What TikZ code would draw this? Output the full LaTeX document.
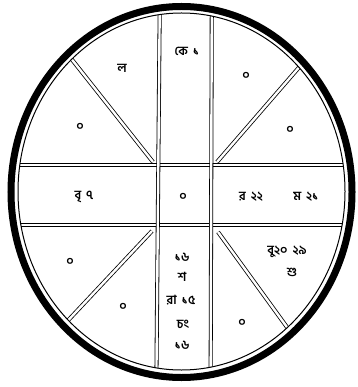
\documentclass[tikz,border=0pt]{standalone}
\usepackage{fontspec}
\newfontfamily\bn[Script=Bengali]{Hind Siliguri}
\newcommand{\gap}{\hspace{5pt}}
\begin{document}
\begin{tikzpicture}[x=1pt,y=-1pt,
  dbl/.style={draw, double=white, double distance=2.4pt, line width=0.8pt},
  lbl/.style={font=\bn\bfseries\fontsize{12.5}{14}\selectfont, inner sep=0pt}]
\useasboundingbox (0,0) rectangle (357,387);
% outer rings
\draw[line width=7pt] (181.5,192) ellipse [x radius=170.5pt, y radius=185.5pt];
% grid, clipped to inner ellipse
\begin{scope}
\clip (181.5,191.5) ellipse [x radius=163.5pt, y radius=178.5pt];
\coordinate (hl1) at (0,165); \coordinate (hr1) at (357,165);
\coordinate (hl2) at (0,225); \coordinate (hr2) at (357,225);
\draw[dbl] (hl1) -- (hr1);
\draw[dbl] (hl2) -- (hr2);
\coordinate (vt1) at (159.8,0); \coordinate (vb1) at (156.3,387);
\coordinate (vt2) at (211.8,0); \coordinate (vb2) at (210.6,387);
\draw[dbl] (vt1) -- (vb1);
\draw[dbl] (vt2) -- (vb2);
\coordinate (d1a) at (153,162); \coordinate (d1b) at (62,47);
\coordinate (d2a) at (217,162); \coordinate (d2b) at (308,57);
\coordinate (d3a) at (152,231); \coordinate (d3b) at (60,329);
\coordinate (d4a) at (218,232); \coordinate (d4b) at (297,341);
\draw[dbl] (d1a) -- (d1b);
\draw[dbl] (d2a) -- (d2b);
\draw[dbl] (d3a) -- (d3b);
\draw[dbl] (d4a) -- (d4b);
\end{scope}
\draw[line width=1pt] (181.5,191.5) ellipse [x radius=163.5pt, y radius=178.5pt];
% labels
\node[lbl] (ke) at (187,51) {কে\gap১};
\node[lbl] (la) at (122,68) {ল};
\node[lbl] (z1) at (80,127) {০};
\node[lbl] (z2) at (246,76) {০};
\node[lbl] (z3) at (290,130) {০};
\node[lbl] (bri) at (84,197) {বৃ\gap৭};
\node[lbl] (zc) at (183,197) {০};
\node[lbl] (ra) at (251,197) {র\gap২২};
\node[lbl] (ma) at (306,197) {ম\gap২১};
\node[lbl] (z4) at (70,262) {০};
\node[lbl] (z5) at (123,307) {০};
\node[lbl] (bu) at (287,252) {বু২০\gap২৯};
\node[lbl] (shu) at (292,272) {শু};
\node[lbl] (z6) at (242,323) {০};
\node[lbl] (c1) at (182,257) {১৬};
\node[lbl] (c2) at (182,277) {শ};
\node[lbl] (c3) at (181,300) {রা\gap১৫};
\node[lbl] (c4) at (183,324) {চং};
\node[lbl] (c5) at (182,345) {১৬};
\end{tikzpicture}
\end{document}
